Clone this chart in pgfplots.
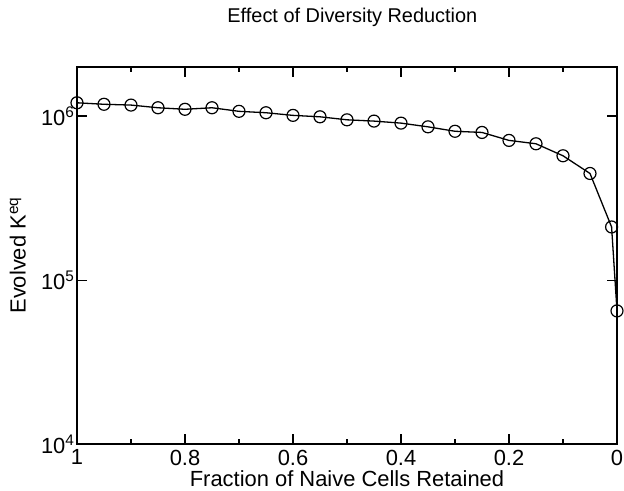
\documentclass[border=0pt]{standalone}
\usepackage{pgfplots}
\pgfplotsset{compat=1.18}
\usepackage{fontspec}
\setmainfont{Liberation Sans}
\begin{document}
\begin{tikzpicture}
\path[use as bounding box] (-77bp,-46.7bp) rectangle (547bp,444.3bp);
\begin{axis}[
  at={(0,0)}, anchor=south west,
  scale only axis, width=540bp, height=377.6bp,
  clip=false,
  x dir=reverse, xmin=0, xmax=1,
  ymode=log, log basis y=10, ymin=1e4, ymax=2e6,
  xtick={0,0.2,0.4,0.6,0.8,1},
  xticklabels={0,0.2,0.4,0.6,0.8,1},
  minor xtick={0.1,0.3,0.5,0.7,0.9},
  ytick={1e4,1e5,1e6},
  yticklabels={10\textsuperscript{4},10\textsuperscript{5},10\textsuperscript{6}},
  tick align=inside,
  major tick length=10bp, minor tick length=5bp,
  every tick/.style={black, line width=1.2bp},
  axis line style={line width=1.7bp},
  tick label style={font=\fontsize{22}{24}\selectfont},
  xticklabel style={yshift=-2bp},
  yticklabel style={xshift=1bp},
  title={Effect of Diversity Reduction},
  title style={font=\fontsize{20}{22}\selectfont, at={(axis description cs:0.51,1.1025)}, anchor=base},
  xlabel={Fraction of Naive Cells Retained},
  xlabel style={font=\fontsize{22}{24}\selectfont, at={(axis description cs:0.5,-0.112)}, anchor=base},
  ylabel={Evolved K\textsuperscript{eq}},
  ylabel style={font=\fontsize{22}{24}\selectfont, at={(axis description cs:-0.095,0.5)}, anchor=base},
]
\addplot[black, line width=1.3bp, mark=o, mark size=6bp, mark options={line width=1.2bp}] table {
x y
1 1.205e6
0.95 1.18e6
0.9 1.167e6
0.85 1.124e6
0.8 1.10e6
0.75 1.124e6
0.7 1.069e6
0.65 1.048e6
0.6 1.01e6
0.55 0.99e6
0.5 9.49e5
0.45 9.32e5
0.4 9.06e5
0.35 8.6e5
0.3 8.08e5
0.25 7.95e5
0.2 7.11e5
0.15 6.78e5
0.1 5.73e5
0.05 4.47e5
0.01 2.11e5
0 6.5e4
};
\end{axis}
\end{tikzpicture}
\end{document}
